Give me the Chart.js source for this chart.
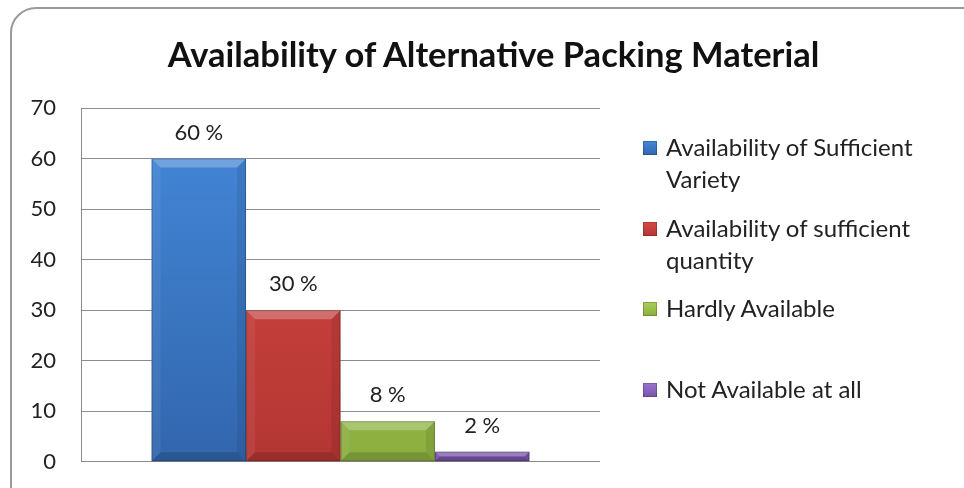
<!DOCTYPE html>
<html>
<head>
<meta charset="utf-8">
<script src="https://cdn.jsdelivr.net/npm/chart.js@4.4.1/dist/chart.umd.min.js"></script>
<style>
  html, body { margin: 0; padding: 0; background: #fff; }
  body { width: 964px; height: 488px; position: relative; overflow: hidden; font-family: Lato, "Open Sans", sans-serif; }
  #frame { position: absolute; left: 10px; top: 7px; width: 990px; height: 520px; border: 2px solid #9a9a9a; border-radius: 26px; box-sizing: border-box; }
  #wrap { position: absolute; left: 0; top: 0; width: 964px; height: 500px; }
  #title { position: absolute; left: 0; width: 987px; top: 34px; text-align: center; font-size: 34.5px; line-height: 40px; font-weight: bold; color: #111; white-space: nowrap; }
  #legend { position: absolute; left: 640px; top: 131px; width: 300px; }
  .item { position: relative; height: 80.5px; }
  .box { position: absolute; left: 3px; top: 10px; width: 14px; height: 14px; }
  .txt { position: absolute; left: 26px; top: 0; font-size: 24px; line-height: 32px; color: #222; }
</style>
</head>
<body>
<div id="frame"></div>
<!-- canvas cao 500: nhãn trục y cộng padding 25 vào lề dưới (13 + 25 = 38) -->
<div id="wrap"><canvas id="chart1" width="964" height="500"></canvas></div>
<div id="title">Availability of Alternative Packing Material</div>
<div id="legend"></div>
<script>
// Dữ liệu biểu đồ
const categories = [''];
const seriesNames = ['Availability of Sufficient Variety', 'Availability of sufficient quantity', 'Hardly Available', 'Not Available at all'];
const seriesValues = [60, 30, 8, 2];
const valueLabels = ['60 %', '30 %', '8 %', '2 %'];
const yTicks = [0, 10, 20, 30, 40, 50, 60, 70];

// màu: [trên, dưới]
const colorsTop = ['#4489da', '#d84a46', '#a9cf58', '#9d74d2'];
const colorsBottom = ['#3266ad', '#b33633', '#8bae3f', '#7752a8'];

function barGradient(i) {
    return function (context) {
        const chart = context.chart;
        const area = chart.chartArea;
        if (!area) return colorsTop[i];
        const g = chart.ctx.createLinearGradient(0, area.top, 0, area.bottom);
        g.addColorStop(0, colorsTop[i]);
        g.addColorStop(1, colorsBottom[i]);
        return g;
    };
}

// Hiệu ứng vát cạnh + nhãn giá trị
const bevelPlugin = {
    id: 'bevel',
    afterDatasetsDraw(chart) {
        const ctx = chart.ctx;
        chart.data.datasets.forEach((ds, i) => {
            const meta = chart.getDatasetMeta(i);
            meta.data.forEach((bar) => {
                const l = bar.x - bar.width / 2, r = bar.x + bar.width / 2;
                const t = bar.y, bo = bar.base;
                const b = Math.min(9, (bo - t) / 2, bar.width / 2);
                const poly = (pts, fill) => {
                    ctx.beginPath();
                    ctx.moveTo(pts[0][0], pts[0][1]);
                    for (let k = 1; k < pts.length; k++) ctx.lineTo(pts[k][0], pts[k][1]);
                    ctx.closePath();
                    ctx.fillStyle = fill;
                    ctx.fill();
                };
                ctx.save();
                poly([[l, t], [r, t], [r - b, t + b], [l + b, t + b]], 'rgba(255,255,255,0.25)');
                poly([[l, t], [l + b, t + b], [l + b, bo - b], [l, bo]], 'rgba(255,255,255,0.06)');
                poly([[r, t], [r - b, t + b], [r - b, bo - b], [r, bo]], 'rgba(0,0,0,0.08)');
                poly([[l, bo], [l + b, bo - b], [r - b, bo - b], [r, bo]], 'rgba(0,0,0,0.15)');
                ctx.strokeStyle = 'rgba(0,0,0,0.22)';
                ctx.lineWidth = 1;
                ctx.strokeRect(l + 0.5, t + 0.5, bar.width - 1, bo - t - 1);
                // nhãn
                ctx.fillStyle = '#222';
                ctx.font = '22px Lato, "Open Sans", sans-serif';
                ctx.textAlign = 'center';
                ctx.textBaseline = 'middle';
                ctx.fillText(valueLabels[i], bar.x, t - 26);
                ctx.restore();
            });
        });
    }
};

const ctx1 = document.getElementById('chart1').getContext('2d');
const chart1 = new Chart(ctx1, {
    type: 'bar',
    data: {
        labels: categories,
        datasets: seriesNames.map((name, i) => ({
            label: name,
            data: [seriesValues[i]],
            backgroundColor: barGradient(i),
            borderWidth: 0,
            categoryPercentage: 0.728,
            barPercentage: 1
        }))
    },
    options: {
        responsive: false,
        animation: false,
        layout: { padding: { left: 0, right: 364, top: 108, bottom: 0 } },
        plugins: {
            legend: { display: false },
            tooltip: { enabled: false },
            title: { display: false }
        },
        scales: {
            x: { display: false },
            y: {
                min: 0,
                max: 70,
                afterBuildTicks(scale) { scale.ticks = yTicks.map(v => ({ value: v })); },
                afterFit(scale) { scale.width = 81; },
                ticks: { color: '#222', font: { family: 'Lato', size: 22 }, padding: 25 },
                grid: { color: '#8c8c8c', drawTicks: false },
                border: { display: true, color: '#8c8c8c', width: 1 }
            }
        }
    },
    plugins: [bevelPlugin]
});

// Chú giải HTML
const legendEl = document.getElementById('legend');
seriesNames.forEach((name, i) => {
    const item = document.createElement('div');
    item.className = 'item';
    const box = document.createElement('div');
    box.className = 'box';
    box.style.background = 'linear-gradient(' + colorsTop[i] + ',' + colorsBottom[i] + ')';
    box.style.boxShadow = 'inset 0 0 0 1px rgba(0,0,0,0.2)';
    const txt = document.createElement('div');
    txt.className = 'txt';
    txt.style.width = '275px';
    txt.textContent = name;
    item.appendChild(box);
    item.appendChild(txt);
    legendEl.appendChild(item);
});
</script>
</body>
</html>
